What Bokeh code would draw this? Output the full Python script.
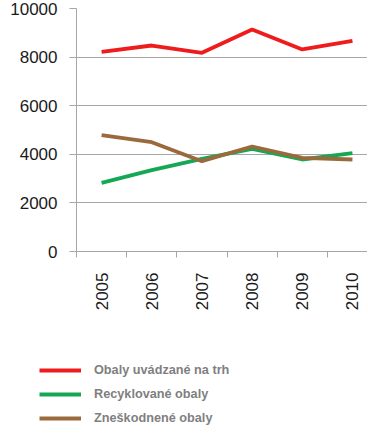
from bokeh.plotting import figure
from bokeh.models import FixedTicker, Legend, LegendItem, Range1d
from bokeh.layouts import column, row
from bokeh.embed import file_html
from bokeh.resources import INLINE
import math

years = ["2005", "2006", "2007", "2008", "2009", "2010"]
trh = [8217, 8477, 8176, 9136, 8313, 8669]
recyk = [2826, 3347, 3813, 4225, 3786, 4047]
znesk = [4787, 4499, 3717, 4321, 3855, 3786]
series_names = ["Obaly uvádzané na trh", "Recyklované obaly", "Zneškodnené obaly"]
y_ticks = [0, 2000, 4000, 6000, 8000, 10000]

xs = list(range(len(years)))
colors = ["#ee1c1c", "#14a855", "#9a6a3c"]
FONT = "Liberation Sans"

p = figure(width=367, height=320, output_backend="svg", toolbar_location=None,
           x_range=Range1d(-0.5, 5.3), y_range=Range1d(0, 10000),
           min_border_left=76, min_border_right=0, min_border_top=8, min_border_bottom=69)
p.outline_line_color = None
p.background_fill_color = "white"
p.border_fill_color = "white"

for vals, c in zip([trh, recyk, znesk], colors):
    p.line(xs, vals, line_color=c, line_width=3.8)

# x axis
p.xaxis.ticker = FixedTicker(ticks=xs, minor_ticks=[i - 0.5 for i in range(len(years) + 1)])
p.xaxis.major_label_overrides = {i: y for i, y in enumerate(years)}
p.xaxis.major_tick_out = 0
p.xaxis.major_tick_in = 0
p.xaxis.minor_tick_out = 6
p.xaxis.minor_tick_in = 0
p.xaxis.minor_tick_line_color = "#a6a6a6"
p.xaxis.axis_line_color = "#a6a6a6"
p.xaxis.major_label_orientation = math.pi / 2
p.xaxis.major_label_text_font = FONT
p.xaxis.major_label_text_font_size = "17px"
p.xaxis.major_label_text_color = "#1a1a1a"
p.xaxis.major_label_standoff = 15

# y axis
p.yaxis.ticker = FixedTicker(ticks=y_ticks)
p.yaxis.minor_tick_line_color = None
p.yaxis.major_tick_out = 7
p.yaxis.major_tick_in = 0
p.yaxis.major_tick_line_color = "#a6a6a6"
p.yaxis.axis_line_color = "#a6a6a6"
p.yaxis.major_label_text_font = FONT
p.yaxis.major_label_text_font_size = "17px"
p.yaxis.major_label_text_color = "#1a1a1a"
p.yaxis.major_label_standoff = 12

p.xgrid.grid_line_color = None
p.ygrid.ticker = FixedTicker(ticks=y_ticks)
p.ygrid.grid_line_color = "#a6a6a6"

# legend figure (series drawn off-range; only the legend is visible)
q = figure(width=367, height=124, output_backend="svg", toolbar_location=None,
           x_range=Range1d(100, 101), y_range=Range1d(0, 1),
           x_axis_location=None, y_axis_location=None,
           min_border_left=0, min_border_right=0, min_border_top=0, min_border_bottom=0)
q.grid.visible = False
q.outline_line_color = None
q.border_fill_color = "white"
rs = [q.line(xs, vals, line_color=c, line_width=4) for vals, c in zip([trh, recyk, znesk], colors)]
legend = Legend(items=[LegendItem(label=n, renderers=[r]) for n, r in zip(series_names, rs)],
                location=(39, 16), orientation="vertical",
                glyph_width=42, glyph_height=20, label_height=20, spacing=4,
                label_standoff=13, padding=0, margin=0,
                border_line_color=None, background_fill_alpha=0,
                label_text_font=FONT, label_text_font_size="12.7px",
                label_text_font_style="bold", label_text_color="#7f7f7f")
q.add_layout(legend)

layout = column(p, row(q), spacing=0)
open("out.html", "w").write(file_html(layout, INLINE))
